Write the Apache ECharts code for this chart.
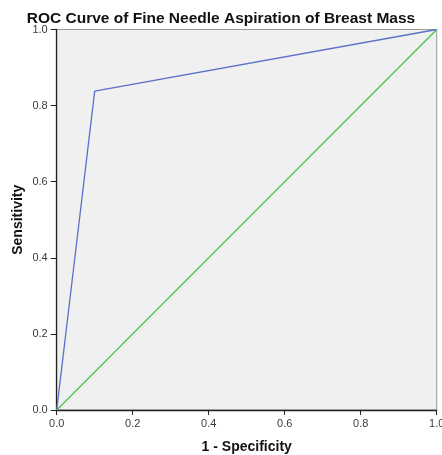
<!DOCTYPE html>
<html><head><meta charset="utf-8">
<script src="https://cdn.jsdelivr.net/npm/echarts@6/dist/echarts.min.js"></script>
<style>html,body{margin:0;padding:0;background:#fff}#c{width:442px;height:455px}</style>
</head><body><div id="c"></div>
<script>
const titleText = "ROC Curve of Fine Needle Aspiration of Breast Mass";
const xName = "1 - Specificity";
const yName = "Sensitivity";
const rocX = [0, 0.1, 1];
const rocY = [0, 0.838, 1];
const refX = [0, 1];
const refY = [0, 1];
const ticks = [0, 0.2, 0.4, 0.6, 0.8, 1.0];

const chart = echarts.init(document.getElementById('c'), null, {renderer: 'canvas'});
const labelStyle = {color: '#3a3a3a', fontSize: 11, fontFamily: 'Liberation Sans, Arial, sans-serif', formatter: v => v.toFixed(1)};
chart.setOption({
  animation: false,
  backgroundColor: '#ffffff',
  title: {text: titleText, left: 'center', top: 6,
    textStyle: {fontSize: 15.5, fontWeight: 'bold', color: '#111', fontFamily: 'Liberation Sans, Arial, sans-serif'}},
  grid: {left: 56.7, right: 5.3, top: 29.5, bottom: 45, show: true, backgroundColor: '#f0f0f0', borderColor: '#9a9a9a', borderWidth: 1,
    containLabel: false, outerBoundsMode: 'none'},
  xAxis: {type: 'value', min: 0, max: 1, interval: 0.2, name: xName, nameLocation: 'middle', nameGap: 30,
    nameTextStyle: {fontSize: 14, fontWeight: 'bold', color: '#111', fontFamily: 'Liberation Sans, Arial, sans-serif'},
    axisLine: {show: true, lineStyle: {color: '#222', width: 1.3}},
    axisTick: {show: true, inside: false, length: 5, lineStyle: {color: '#222'}},
    axisLabel: Object.assign({margin: 8}, labelStyle),
    splitLine: {show: false}},
  yAxis: {type: 'value', min: 0, max: 1, interval: 0.2, name: yName, nameLocation: 'middle', nameGap: 32, nameMoveOverlap: false,
    nameTextStyle: {fontSize: 14, fontWeight: 'bold', color: '#111', fontFamily: 'Liberation Sans, Arial, sans-serif'},
    axisLine: {show: true, lineStyle: {color: '#222', width: 1.3}},
    axisTick: {show: true, inside: false, length: 6, lineStyle: {color: '#222'}},
    axisLabel: Object.assign({margin: 9}, labelStyle),
    splitLine: {show: false}},
  series: [
    {type: 'line', data: refX.map((x, i) => [x, refY[i]]), showSymbol: false, clip: false,
      lineStyle: {color: '#4cc64c', width: 1.3}},
    {type: 'line', data: rocX.map((x, i) => [x, rocY[i]]), showSymbol: false, clip: false,
      lineStyle: {color: '#5b70c8', width: 1.3}}
  ]
});
</script></body></html>
